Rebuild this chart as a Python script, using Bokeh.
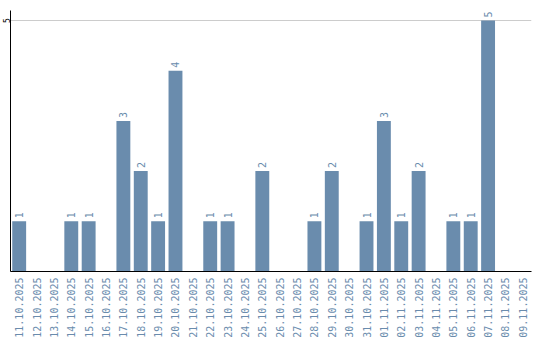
import math
from bokeh.plotting import figure
from bokeh.models import ColumnDataSource, Range1d, FixedTicker
from bokeh.core.properties import value
from bokeh.embed import file_html
from bokeh.resources import INLINE

dates = ["11.10.2025", "12.10.2025", "13.10.2025", "14.10.2025", "15.10.2025",
         "16.10.2025", "17.10.2025", "18.10.2025", "19.10.2025", "20.10.2025",
         "21.10.2025", "22.10.2025", "23.10.2025", "24.10.2025", "25.10.2025",
         "26.10.2025", "27.10.2025", "28.10.2025", "29.10.2025", "30.10.2025",
         "31.10.2025", "01.11.2025", "02.11.2025", "03.11.2025", "04.11.2025",
         "05.11.2025", "06.11.2025", "07.11.2025", "08.11.2025", "09.11.2025"]
counts = [1, 0, 0, 1, 1, 0, 3, 2, 1, 4, 0, 1, 1, 0, 2, 0, 0, 1, 2, 0,
          1, 3, 1, 2, 0, 1, 1, 5, 0, 0]
y_ticks = [5]

BAR = "#6a8cad"
LBL = "#6a8cad"

nz = [(d, c) for d, c in zip(dates, counts) if c > 0]
src = ColumnDataSource(dict(x=dates, top=counts))
lsrc = ColumnDataSource(dict(x=[d for d, c in nz], y=[c for d, c in nz],
                             t=[str(c) for d, c in nz]))

p = figure(x_range=dates, y_range=Range1d(0, 5.2), width=540, height=340,
           output_backend="svg", toolbar_location=None,
           min_border_left=0, min_border_right=9, min_border_top=10, min_border_bottom=0)
p.outline_line_color = None
p.background_fill_color = "white"
p.border_fill_color = "white"

p.vbar(x="x", top="top", width=0.8, source=src, color=BAR, line_color=None)
p.text(x="x", y="y", text="t", source=lsrc, angle=math.pi / 2,
       text_align="left", text_baseline="middle", y_offset=-3,
       text_font=value("DejaVu Sans Mono"), text_font_size="10px", text_color=LBL)

p.xgrid.grid_line_color = None
p.ygrid.ticker = FixedTicker(ticks=y_ticks)
p.ygrid.grid_line_color = "#cccccc"

p.yaxis.ticker = FixedTicker(ticks=y_ticks)
p.yaxis.major_label_orientation = "vertical"
p.yaxis.major_tick_line_color = None
p.yaxis.minor_tick_line_color = None
p.yaxis.major_tick_out = 0
p.yaxis.major_tick_in = 0
p.yaxis.axis_line_color = "black"
p.yaxis.axis_line_width = 1
p.yaxis.major_label_text_font = "DejaVu Sans Mono"
p.yaxis.major_label_text_font_size = "8px"
p.yaxis.major_label_text_color = "black"
p.yaxis.major_label_standoff = 0

p.xaxis.major_label_orientation = math.pi / 2
p.xaxis.major_tick_line_color = None
p.xaxis.major_tick_out = 0
p.xaxis.major_tick_in = 0
p.xaxis.axis_line_color = "black"
p.xaxis.axis_line_width = 1
p.xaxis.major_label_text_font = "DejaVu Sans Mono"
p.xaxis.major_label_text_font_size = "10px"
p.xaxis.major_label_text_color = LBL
p.xaxis.major_label_standoff = 6

open("out.html", "w").write(file_html(p, INLINE))
